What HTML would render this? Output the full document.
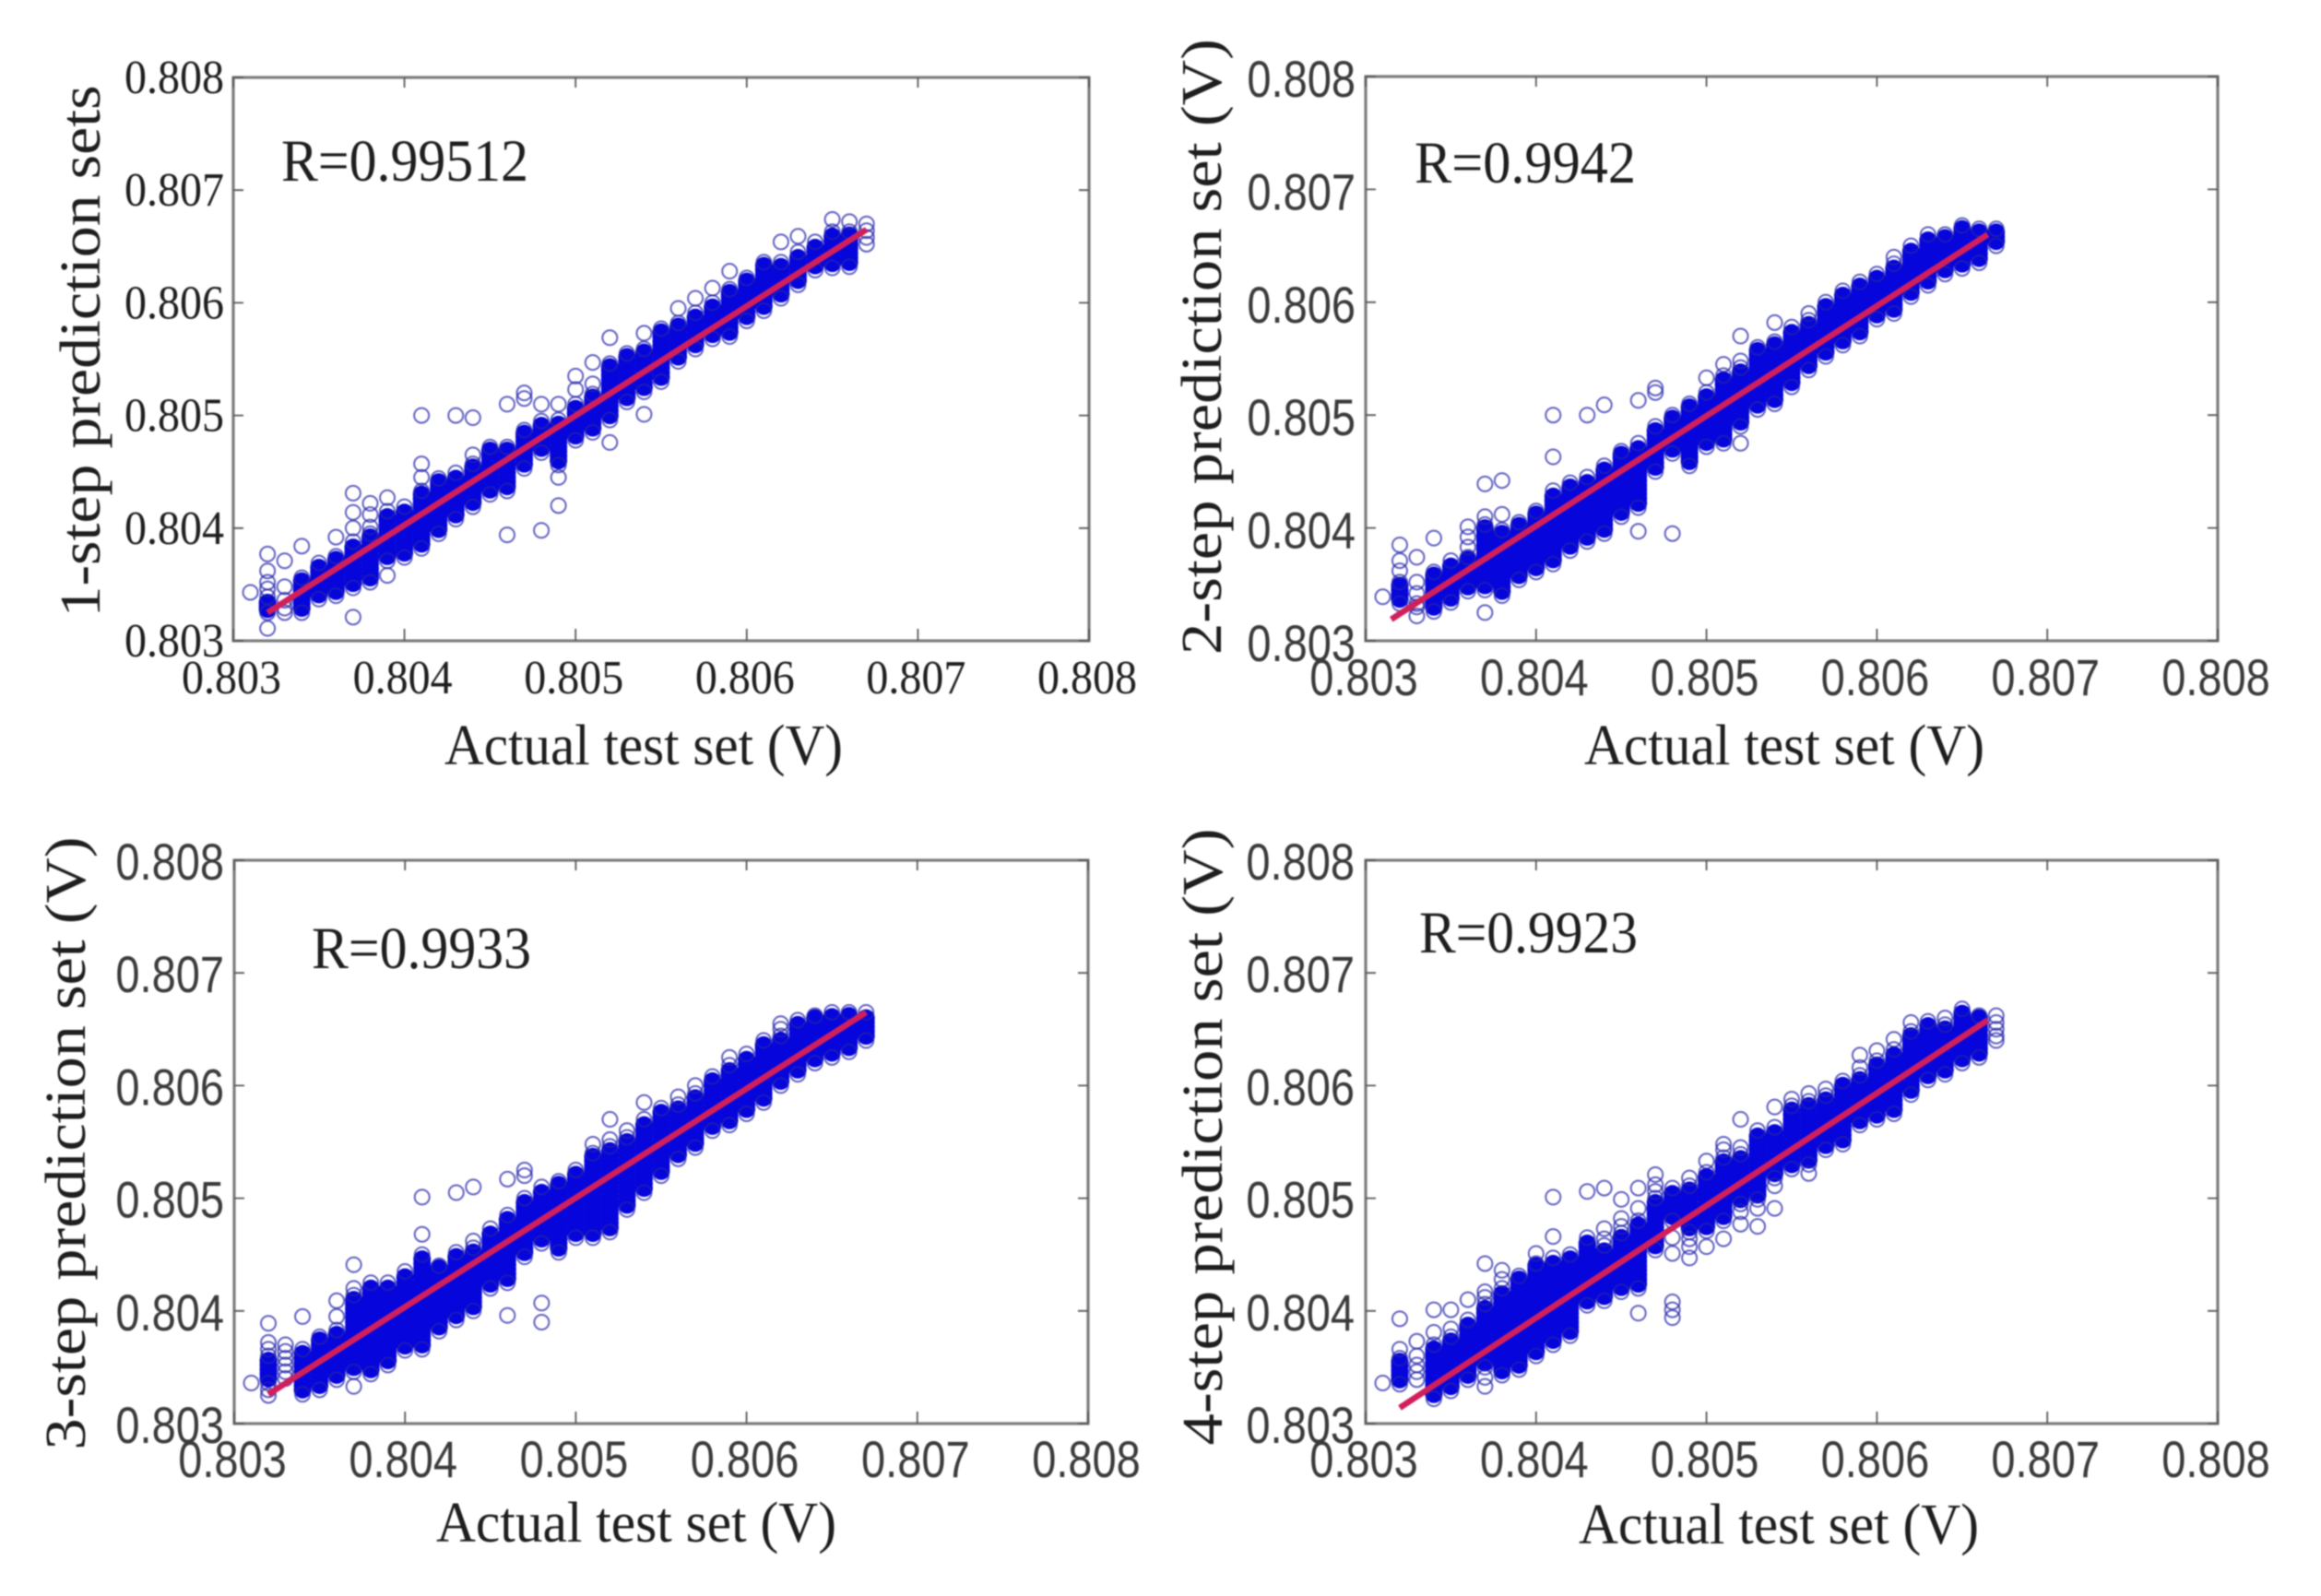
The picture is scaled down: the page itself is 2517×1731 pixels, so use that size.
<!DOCTYPE html>
<html>
<head>
<meta charset="utf-8">
<title>Prediction vs actual scatter plots</title>
<style>
html,body{margin:0;padding:0;background:#fff;}
body{width:2517px;height:1731px;overflow:hidden;}
svg{display:block;filter:blur(0.9px);}
.serif{font-family:"Liberation Serif",serif;fill:#1e1e1e;}
.sans{font-family:"Liberation Sans",sans-serif;fill:#3a3a3a;}
</style>
</head>
<body>
<svg id="figure" width="2517" height="1731" viewBox="0 0 2517 1731" xmlns="http://www.w3.org/2000/svg">
<rect x="0" y="0" width="2517" height="1731" fill="#fff"/>
<g id="panel1">
<text class="serif" x="482" y="829" font-size="62" textLength="432" lengthAdjust="spacingAndGlyphs">Actual test set (V)</text>
<text class="serif" transform="translate(108,381) rotate(-90)" text-anchor="middle" font-size="62" textLength="577" lengthAdjust="spacingAndGlyphs">1-step prediction sets</text>
<text class="serif" x="305" y="196" font-size="65" textLength="268" lengthAdjust="spacingAndGlyphs">R=0.99512</text>
</g>
<g id="panel2">
<text class="serif" x="1718" y="829" font-size="62" textLength="434" lengthAdjust="spacingAndGlyphs">Actual test set (V)</text>
<text class="serif" transform="translate(1324,376) rotate(-90)" text-anchor="middle" font-size="62" textLength="668" lengthAdjust="spacingAndGlyphs">2-step prediction set (V)</text>
<text class="serif" x="1534" y="198" font-size="65" textLength="240" lengthAdjust="spacingAndGlyphs">R=0.9942</text>
</g>
<g id="panel3">
<text class="serif" x="473" y="1672" font-size="62" textLength="434" lengthAdjust="spacingAndGlyphs">Actual test set (V)</text>
<text class="serif" transform="translate(92,1240) rotate(-90)" text-anchor="middle" font-size="62" textLength="665" lengthAdjust="spacingAndGlyphs">3-step prediction set (V)</text>
<text class="serif" x="338" y="1050" font-size="65" textLength="238" lengthAdjust="spacingAndGlyphs">R=0.9933</text>
</g>
<g id="panel4">
<text class="serif" x="1712" y="1674" font-size="62" textLength="434" lengthAdjust="spacingAndGlyphs">Actual test set (V)</text>
<text class="serif" transform="translate(1325,1233) rotate(-90)" text-anchor="middle" font-size="62" textLength="669" lengthAdjust="spacingAndGlyphs">4-step prediction set (V)</text>
<text class="serif" x="1539" y="1033" font-size="65" textLength="237" lengthAdjust="spacingAndGlyphs">R=0.9923</text>
</g>
</svg>
<script>
const tickValues = [0.803, 0.804, 0.805, 0.806, 0.807, 0.808];
const tickLabels = ["0.803", "0.804", "0.805", "0.806", "0.807", "0.808"];
/* actual test-set voltage of each scatter column, in units of 0.1 mV */
const columnX = [8031,8032,8033,8034,8035,8036,8037,8038,8039,8040,8041,8042,8043,8044,8045,8046,8047,8048,8049,8050,8051,8052,8053,8054,8055,8056,8057,8058,8059,8060,8061,8062,8063,8064,8065,8066,8067];
/* predicted voltages per column, in units of 0.01 mV above 0.800 V */
const step1Y = [
[343],
[311,325,328,331,334,339,346,352,362,377],
[325,329,336,348,371],
[325,329,333,337,341,345,349,353,356,384],
[337,341,345,349,353,357,361,365,369],
[340,344,348,352,356,360,364,368,372,375,392],
[321,347,351,355,359,363,367,371,375,379,383,388,400,414,431],
[352,356,360,364,368,372,376,380,384,388,392,395,401,412,422],
[358,371,375,379,383,387,391,395,399,403,407,410,415,427],
[374,378,382,386,390,394,398,402,406,410,414,419],
[382,386,390,394,398,402,406,410,414,418,422,426,430,433,445,457,500],
[395,399,403,407,411,415,419,423,427,431,435,438,441,444],
[408,412,416,420,424,428,432,436,440,444,449,500],
[419,423,427,431,435,439,443,447,451,454,457,465,498],
[430,434,438,442,446,450,454,458,462,466,469,472],
[394,433,437,441,445,449,453,457,461,465,469,472,510],
[453,457,461,465,469,473,477,481,484,487,515,520],
[398,467,471,475,479,483,487,491,495,510],
[420,445,456,460,464,468,472,476,480,484,488,492,496,510],
[478,482,486,490,494,498,502,506,510,523,535],
[485,489,493,497,501,505,509,513,516,519,528,547],
[476,496,500,504,508,512,516,520,524,528,532,536,540,543,546,569],
[512,516,520,524,528,532,536,540,544,548,552,555],
[501,521,525,529,533,537,541,545,549,553,556,559,573],
[530,534,538,542,546,550,554,558,562,566,570,574,577],
[548,552,556,560,564,568,572,576,579,582,595],
[559,563,567,571,575,579,583,587,591,604],
[568,572,576,580,584,588,592,596,600,613],
[570,574,578,582,586,590,594,598,602,606,609,612,628],
[584,588,592,596,600,604,608,612,616,619,622],
[593,597,601,605,609,613,617,621,625,629,633,636],
[604,608,612,616,620,624,628,632,636,654],
[616,620,624,628,632,636,640,645,659],
[629,633,637,641,645,649,654],
[631,635,639,643,647,651,655,659,663,674],
[632,636,640,644,648,652,656,660,663,672],
[652,658,664,670]
];
const step2Y = [
[339],
[333,337,341,345,349,352,362,371,385],
[322,330,333,342,352,374],
[326,330,334,338,342,346,350,354,358,361,391],
[334,338,342,346,350,354,358,362,366,371],
[344,348,352,356,360,364,368,372,374,383,392,401],
[325,345,349,353,357,361,365,369,373,377,381,385,389,393,397,400,403,410,439],
[340,344,348,352,356,360,364,368,372,376,380,384,388,392,395,398,412,442],
[354,358,362,366,370,374,378,382,386,390,394,398,402,405],
[361,365,369,373,377,381,385,389,393,397,401,405,409,412,415],
[368,372,376,380,384,388,392,396,400,404,408,412,416,420,424,428,433,463,500],
[380,384,388,392,396,400,404,408,412,416,420,424,428,432,436,440],
[388,392,396,400,404,408,412,416,420,424,428,432,436,440,445,500],
[395,399,403,407,411,415,419,423,427,431,435,439,443,447,451,455,509],
[410,414,418,422,426,430,434,438,442,446,450,454,458,462,465,468],
[397,418,422,426,430,434,438,442,446,450,454,458,462,466,470,475,513],
[450,454,458,462,466,470,474,478,482,486,490,520,524],
[395,466,470,474,478,482,486,490,494,497,500],
[455,459,463,467,471,475,479,483,487,491,495,499,503,507,510],
[472,476,480,484,488,492,496,500,504,508,512,516,520,533],
[475,479,483,487,491,495,499,503,507,511,515,519,523,527,531,535,545],
[475,490,494,498,502,506,510,514,518,522,526,530,534,538,542,548,570],
[505,509,513,517,521,525,529,533,537,541,545,549,553,557,560],
[510,514,518,522,526,530,534,538,542,546,550,554,558,562,565,582],
[525,529,533,537,541,545,549,553,557,561,565,569,573,578],
[540,544,548,552,556,560,564,568,572,576,580,584,590],
[552,556,560,564,568,572,576,580,584,588,592,596,600],
[562,566,570,574,578,582,586,590,594,598,602,606,610],
[570,574,578,582,586,590,594,598,602,606,610,614,618],
[585,589,593,597,601,605,609,613,617,621,625],
[590,594,598,602,606,610,614,618,622,626,630,634,640],
[605,609,613,617,621,625,629,633,637,641,645,650],
[615,619,623,627,631,635,639,643,647,651,655,660],
[625,629,633,637,641,645,649,653,657,660],
[630,634,638,642,646,650,654,658,662,665,668],
[635,639,643,647,651,655,659,662,665],
[650,654,658,662,665]
];
const step3Y = [
[336],
[325,330,336,340,344,348,352,356,360,366,372,389],
[340,346,352,358,364,370],
[326,330,334,338,342,346,350,354,358,362,366,395],
[330,334,338,342,346,350,354,358,362,366,370,374,377],
[339,343,347,351,355,359,363,367,371,375,379,383,395,409],
[333,346,350,354,358,362,366,370,374,378,382,386,390,394,398,402,406,410,414,420,441],
[344,348,352,356,360,364,368,372,376,380,384,388,392,396,400,404,408,412,416,420,425],
[352,356,360,364,368,372,376,380,384,388,392,396,400,404,408,412,416,420,425],
[365,369,373,377,381,385,389,393,397,401,405,409,413,417,421,425,430,435],
[366,370,374,378,382,386,390,394,398,402,406,410,414,418,422,426,430,434,438,442,446,450,468,501],
[382,386,390,394,398,402,406,410,414,418,422,426,430,434,438,440],
[392,396,400,404,408,412,416,420,424,428,432,436,440,444,448,452,505],
[400,404,408,412,416,420,424,428,432,436,440,444,448,452,456,462,510],
[420,424,428,432,436,440,444,448,452,456,460,464,468,473],
[396,425,429,433,437,441,445,449,453,457,461,465,469,473,477,481,485,517],
[448,452,456,460,464,468,472,476,480,484,488,492,496,500,520,525],
[390,407,460,464,468,472,476,480,484,488,492,496,500,505,510],
[452,456,460,464,468,472,476,480,484,488,492,496,500,504,508,512,515],
[465,469,473,477,481,485,489,493,497,501,505,509,513,517,521,525],
[465,469,473,477,481,485,489,493,497,501,505,509,513,517,521,525,529,533,537,540,548],
[470,474,478,482,486,490,494,498,502,506,510,514,518,522,526,530,534,538,542,546,552,570],
[490,494,498,502,506,510,514,518,522,526,530,534,538,542,546,550,554,560],
[505,509,513,517,521,525,529,533,537,541,545,549,553,557,561,565,570,585],
[520,524,528,532,536,540,544,548,552,556,560,564,568,572,576,580],
[535,539,543,547,551,555,559,563,567,571,575,579,583,590],
[545,549,553,557,561,565,569,573,577,581,585,589,593,600],
[560,564,568,572,576,580,584,588,592,596,600,604,608],
[565,569,573,577,581,585,589,593,597,601,605,609,613,618,625],
[575,579,583,587,591,595,599,603,607,611,615,619,623,628],
[585,589,593,597,601,605,609,613,617,621,625,629,633,636,640],
[600,604,608,612,616,620,624,628,632,636,640,644,650,655],
[610,614,618,622,626,630,634,638,642,646,650,654,658],
[620,624,628,632,636,640,644,648,652,656,660,662],
[625,629,633,637,641,645,649,653,657,661,665],
[630,634,638,642,646,650,654,658,662,665],
[640,644,648,652,656,660,665]
];
const step4Y = [
[336],
[335,339,343,347,351,355,358,366,393],
[339,346,352,360,373],
[322,350,354,358,362,366,370,381,401,326,330,334,338,342,346],
[329,333,337,341,345,349,353,357,361,365,369,373,377,384,401],
[339,343,347,351,355,359,363,367,371,375,379,383,387,392,410],
[333,341,350,354,358,362,366,370,374,378,382,386,390,394,398,402,406,412,417,442],
[343,347,351,355,359,363,367,371,375,379,383,387,391,395,399,403,407,411,415,420,428,436],
[348,352,356,360,364,368,372,376,380,384,388,392,396,400,404,408,412,416,420,424,428,431],
[360,364,368,372,376,380,384,388,392,396,400,404,408,412,416,420,424,428,432,436,440,442,451],
[370,374,378,382,386,390,394,398,402,406,410,414,418,422,426,430,434,438,442,447,466,501],
[378,382,386,390,394,398,402,406,410,414,418,422,426,430,434,438,442,446,450],
[405,409,413,417,421,425,429,433,437,441,445,449,453,457,460,465,506],
[409,413,417,421,425,429,433,437,441,445,449,453,458,464,473,509],
[417,421,425,429,433,437,441,445,449,453,457,461,465,469,475,482,499],
[398,420,424,428,432,436,440,444,448,452,456,460,464,468,472,476,480,491,509],
[454,458,462,466,470,474,478,482,486,490,492,496,500,506,512,521],
[394,401,408,451,465,480,484,488,492,496,500,504,509],
[447,457,464,470,474,478,482,486,490,494,499,503,507,511,518],
[457,471,475,479,483,487,491,495,499,503,507,511,515,519,523,533],
[464,480,484,488,492,496,500,504,508,512,516,520,524,528,532,536,543,548],
[477,488,495,499,503,507,511,515,519,523,527,531,535,539,545,570],
[475,491,499,503,507,511,515,519,523,527,531,535,539,543,547,551,555,560],
[491,511,518,522,526,530,534,538,542,546,550,554,558,563,581],
[526,530,534,538,542,546,550,554,558,562,566,570,574,578,582,588],
[522,530,534,538,542,546,550,554,558,562,566,570,574,578,582,586,593],
[543,547,551,555,559,563,567,571,575,579,583,587,591,597],
[548,552,556,560,564,568,572,576,580,584,588,592,596,600,604],
[565,569,573,577,581,585,589,593,597,601,605,609,616,627],
[570,574,578,582,586,590,594,598,602,606,610,614,618,622,631],
[575,579,583,587,591,595,599,603,607,611,615,619,623,627,632,641],
[592,596,600,604,608,612,616,620,624,628,632,636,640,644,648,656],
[605,609,613,617,621,625,629,633,637,641,645,649,653,657],
[610,614,618,622,626,630,634,638,642,646,650,654,660],
[620,624,628,632,636,640,644,648,652,656,660,664,668],
[625,629,633,637,641,645,649,653,657,660,662],
[640,644,650,656,662]
];
/* fitted line end points: x in 0.1 mV units, y in 0.01 mV units above 0.800 V */
const step1FitX = [8032, 8067];
const step1FitY = [325, 665];
const step2FitX = [8031.5, 8066.5];
const step2FitY = [319, 660];
const step3FitX = [8032, 8067];
const step3FitY = [326, 665];
const step4FitX = [8032, 8066.5];
const step4FitY = [314, 658];

const NS = 'http://www.w3.org/2000/svg';
const panels = [
  {id:'panel1', left:253, right:1181, top:84, bottom:695, ys:step1Y, fx:step1FitX, fy:step1FitY, font:'serif', fs:48, sy:1.08, yRight:243, yOff:17, xBase:752, xShift:-2},
  {id:'panel2', left:1481, right:2405, top:83, bottom:695, ys:step2Y, fx:step2FitX, fy:step2FitY, font:'sans', fs:47, sy:1.18, yRight:1470, yOff:22, xBase:754, xShift:-2},
  {id:'panel3', left:254, right:1180, top:933, bottom:1544, ys:step3Y, fx:step3FitX, fy:step3FitY, font:'sans', fs:47, sy:1.18, yRight:243, yOff:21, xBase:1602, xShift:-2},
  {id:'panel4', left:1481, right:2405, top:933, bottom:1544, ys:step4Y, fx:step4FitX, fy:step4FitY, font:'sans', fs:47, sy:1.18, yRight:1469, yOff:21, xBase:1602, xShift:-2}
];

function make(tag, attrs, parent) {
  const el = document.createElementNS(NS, tag);
  for (const k in attrs) el.setAttribute(k, attrs[k]);
  parent.appendChild(el);
  return el;
}

/* a point packed between close neighbours in its column reads as solid ink */
function isPacked(col, v) {
  const above = col.some(function (o) { return o > v && o - v <= 5; });
  const below = col.some(function (o) { return o < v && v - o <= 5; });
  return above && below;
}

panels.forEach(function (p) {
  const g = document.getElementById(p.id);
  const xAxis = function (v) { return p.left + (v - 0.803) / 0.005 * (p.right - p.left); };
  const yAxis = function (v) { return p.bottom - (v - 0.803) / 0.005 * (p.bottom - p.top); };

  const core = make('g', {fill:'#0505dc', stroke:'#0505dc', 'stroke-width':'2'}, g);
  
  
  const rims = make('g', {fill:'none', stroke:'rgba(36,36,170,0.72)', 'stroke-width':'2'}, g);
  
  
  columnX.forEach(function (cx, i) {
    p.ys[i].forEach(function (yv) {
      const packed = isPacked(p.ys[i], yv);
      const c = make('circle', {cx:xAxis(cx * 1e-4), cy:yAxis(0.8 + yv * 1e-5), r:packed ? '8.5' : '8'}, packed ? core : rims);
      
      
    });
  });

  const fit = make('line', {x1:xAxis(p.fx[0] * 1e-4), y1:yAxis(0.8 + p.fy[0] * 1e-5), x2:xAxis(p.fx[1] * 1e-4), y2:yAxis(0.8 + p.fy[1] * 1e-5), stroke:'#d01f5c', 'stroke-width':'6.5'}, g);
  
  

  const frame = make('rect', {x:p.left, y:p.top, width:p.right - p.left, height:p.bottom - p.top, fill:'none', stroke:'#7c7c7c', 'stroke-width':'3.2'}, g);
  
  

  tickValues.forEach(function (v, i) {
    const tx = xAxis(v), ty = yAxis(v);
    const ticks = make('path', {d:'M' + tx + ' ' + p.bottom + 'v-13M' + tx + ' ' + p.top + 'v11M' + p.left + ' ' + ty + 'h11M' + p.right + ' ' + ty + 'h-11', stroke:'#5a5a5a', 'stroke-width':'1.8', fill:'none'}, g);
    
    

    const xl = make('text', {'class':p.font, 'font-size':p.fs, 'text-anchor':'middle', transform:'translate(' + (tx + p.xShift) + ',' + p.xBase + ') scale(1,' + p.sy + ')'}, g);
    
    
    xl.textContent = tickLabels[i];

    const yl = make('text', {'class':p.font, 'font-size':p.fs, 'text-anchor':'end', transform:'translate(' + p.yRight + ',' + (ty + p.yOff) + ') scale(1,' + p.sy + ')'}, g);
    
    
    yl.textContent = tickLabels[i];
  });
});
</script>
</body>
</html>
